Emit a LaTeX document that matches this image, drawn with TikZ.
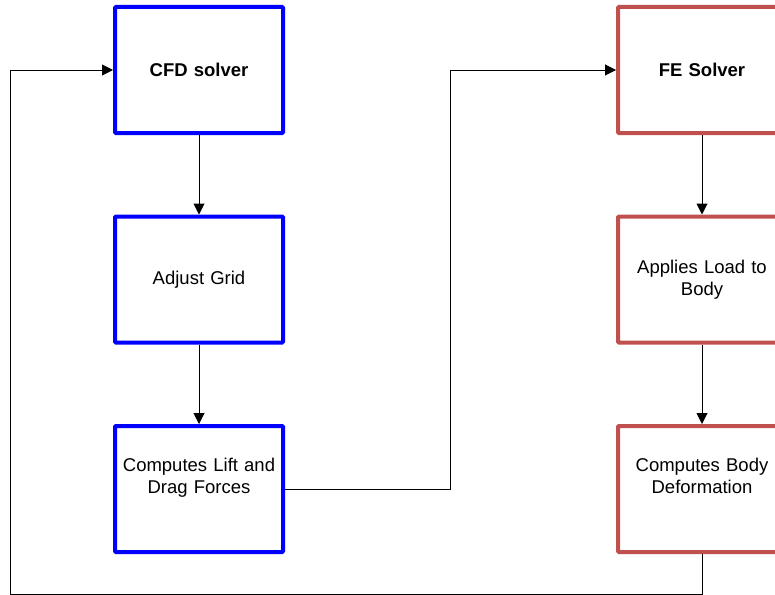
\documentclass[tikz,border=0pt]{standalone}
\usepackage{fontspec}
\setmainfont{Liberation Sans}
\usetikzlibrary{positioning}
\usetikzlibrary{arrows.meta}
\definecolor{cfdblue}{RGB}{0,0,255}
\definecolor{fered}{RGB}{192,80,77}
\tikzset{	node distance=209.5pt,
	every node/.style={
		font=\fontsize{18.5}{22}\selectfont,
		align=center},
	box/.style={
		draw,
		line width=4pt,
		rounded corners=1pt,
		minimum width=168pt,
		minimum height=126pt,
		text width=160pt},
	cfdbox/.style={box, draw=cfdblue},
	febox/.style={box, draw=fered},
	title/.style={font=\fontsize{18.5}{22}\selectfont\bfseries},
	uptext/.style={text depth=48pt},
	link/.style={
		draw,
		line width=1pt,
		-{Triangle[length=11pt,width=11pt]}}
}

\begin{document}
\begin{tikzpicture}
				\useasboundingbox (0,0) rectangle (775pt,-594pt);
				\node[cfdbox, title] (cfd) at (199pt,-70pt) {CFD solver};
				\node[cfdbox, below of=cfd] (grid) {Adjust Grid};
				\node[cfdbox, uptext, below of=grid] (lift) {Computes Lift and\\Drag Forces};
				\node[febox, title] (fe) at (702pt,-70pt) {FE Solver};
				\node[febox, below of=fe] (load) {Applies Load to\\Body};
				\node[febox, uptext, below of=load] (deform) {Computes Body\\Deformation};
				\coordinate (jog) at (450pt,-489pt);
				\coordinate (back) at (10pt,-594.4pt);
				\draw[link] (cfd) -- (grid);
				\draw[link] (grid) -- (lift);
				\draw[link] (fe) -- (load);
				\draw[link] (load) -- (deform);
				\draw[link] (lift) -- (jog) |- (fe);
				\draw[link] (deform) |- (back) |- (cfd);
			\end{tikzpicture}
\end{document}
